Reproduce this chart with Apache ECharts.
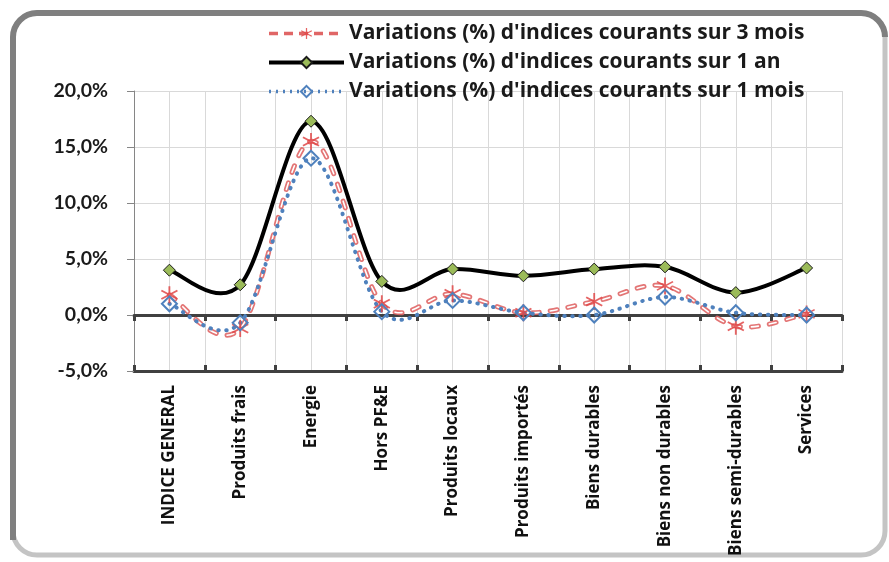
<!DOCTYPE html>
<html>
<head>
<meta charset="utf-8">
<script src="https://cdn.jsdelivr.net/npm/echarts@6/dist/echarts.min.js"></script>
<style>html,body{margin:0;padding:0;background:#fff;}#c{width:889px;height:562px;}</style>
</head>
<body>
<div id="c"></div>
<script>
var categories = ['INDICE GENERAL','Produits frais','Energie','Hors PF&E','Produits locaux','Produits importés','Biens durables','Biens non durables','Biens semi-durables','Services'];
var serie3mois = [1.8, -1.2, 15.5, 1.0, 1.9, 0.2, 1.2, 2.6, -1.0, 0.1];
var serie1an = [4.0, 2.7, 17.3, 3.0, 4.1, 3.5, 4.1, 4.3, 2.0, 4.2];
var serie1mois = [1.0, -0.7, 14.0, 0.3, 1.3, 0.2, 0.0, 1.6, 0.2, 0.0];
var seriesNames = ["Variations (%) d'indices courants sur 3 mois", "Variations (%) d'indices courants sur 1 an", "Variations (%) d'indices courants sur 1 mois"];
var yTicks = {min: -5, max: 20, interval: 5};

var asterisk = 'path://M-1 -10L1 -10L1 10L-1 10Z M8.16 5.87L-9.16 -4.13L-8.16 -5.87L9.16 4.13Z M-9.16 4.13L8.16 -5.87L9.16 -4.13L-8.16 5.87Z';
var font = '"Open Sans", Lato, sans-serif';
var frameDark = {fill: 'none', stroke: '#7f7f7f', lineWidth: 6};

// Smooth curve (Excel-like Catmull-Rom) through the points given by the axes' own scales
function smoothPath(values, api) {
  var p = values.map(function (v, i) { return api.coord([i, v]); });
  var n = p.length;
  function tan(i) {
    var a = p[Math.max(i - 1, 0)], b = p[Math.min(i + 1, n - 1)];
    return [(b[0] - a[0]) / 6, (b[1] - a[1]) / 6];
  }
  var d = 'M' + p[0][0] + ' ' + p[0][1];
  for (var i = 0; i < n - 1; i++) {
    var t0 = tan(i), t1 = tan(i + 1);
    d += ' C' + (p[i][0] + t0[0]) + ' ' + (p[i][1] + t0[1]) + ' ' +
      (p[i + 1][0] - t1[0]) + ' ' + (p[i + 1][1] - t1[1]) + ' ' + p[i + 1][0] + ' ' + p[i + 1][1];
  }
  return d;
}
function curveSeries(name, values, layers, z) {
  return {
    name: name, type: 'custom', z: z, silent: true,
    data: values.map(function (v, i) { return [i, v]; }),
    encode: {x: 0, y: 1},
    renderItem: function (params, api) {
      if (params.dataIndex !== 0) return null;
      var d = smoothPath(values, api);
      return {
        type: 'group',
        children: layers.map(function (st) {
          return {type: 'path', shape: {pathData: d}, style: Object.assign({fill: null}, st)};
        })
      };
    }
  };
}

var chart = echarts.init(document.getElementById('c'));
chart.setOption({
  backgroundColor: '#ffffff',
  animation: false,
  graphic: [
    {type: 'rect', shape: {x: 13, y: 13, width: 872, height: 542, r: 24}, style: {fill: 'none', stroke: '#c4c4c4', lineWidth: 5}, z: -10, silent: true},
    {type: 'line', shape: {x1: 13, y1: 37, x2: 13, y2: 540}, style: frameDark, silent: true},
    {type: 'line', shape: {x1: 37, y1: 13, x2: 861, y2: 13}, style: frameDark, silent: true},
    {type: 'arc', shape: {cx: 37, cy: 37, r: 24, startAngle: Math.PI, endAngle: Math.PI * 1.5, clockwise: true}, style: frameDark, silent: true},
    {type: 'arc', shape: {cx: 861, cy: 37, r: 24, startAngle: Math.PI * 1.5, endAngle: Math.PI * 2, clockwise: true}, style: frameDark, silent: true}
  ],
  legend: {
    orient: 'vertical',
    left: 267,
    top: 23,
    padding: 0,
    itemWidth: 75,
    itemHeight: 14,
    itemGap: 8,
    textStyle: {fontFamily: font, fontWeight: 'bold', fontSize: 21, color: '#1a1a1a'},
    data: [
      {name: seriesNames[0], lineStyle: {color: '#e06666', width: 3.5, type: [9, 6], opacity: 1}},
      {name: seriesNames[1], lineStyle: {color: '#000000', width: 4, type: 'solid', opacity: 1}},
      {name: seriesNames[2], lineStyle: {color: '#4f81bd', width: 3.5, type: [2, 5], opacity: 1}}
    ]
  },
  grid: {left: 134, right: 47, top: 91, bottom: 191, containLabel: false},
  xAxis: [
    {
      type: 'category', data: categories, boundaryGap: true, position: 'bottom',
      axisLine: {show: false, onZero: false}, axisTick: {show: false},
      splitLine: {show: false},
      axisLabel: {interval: 0, rotate: 90, margin: 14, fontFamily: font, fontWeight: 'bold', fontSize: 17, color: '#111'}
    },
    {
      type: 'category', data: categories, boundaryGap: true, position: 'bottom',
      axisLine: {show: true, onZero: true, lineStyle: {color: '#404040', width: 3}},
      axisTick: {show: true, interval: 0, length: 6, lineStyle: {color: '#404040', width: 3}},
      axisLabel: {show: false, interval: 0}, splitLine: {show: false}
    },
    {
      type: 'category', data: categories, boundaryGap: true, position: 'bottom',
      axisLine: {show: true, onZero: true, lineStyle: {color: '#404040', width: 3}},
      axisTick: {show: true, inside: true, interval: 0, length: 6, lineStyle: {color: '#404040', width: 3}},
      axisLabel: {show: false, interval: 0}, splitLine: {show: false}
    },
    {
      type: 'value', min: 0, max: categories.length * 2, interval: 1, position: 'top',
      axisLine: {show: false, onZero: false}, axisTick: {show: false},
      axisLabel: {show: false},
      splitLine: {show: true, lineStyle: {color: '#d9d9d9', width: 1}}
    }
  ],
  yAxis: {
    type: 'value', min: yTicks.min, max: yTicks.max, interval: yTicks.interval,
    axisLine: {show: true, lineStyle: {color: '#868686', width: 1}},
    axisTick: {show: true, length: 7, lineStyle: {color: '#868686'}},
    splitLine: {show: true, lineStyle: {color: '#d9d9d9', width: 1}},
    axisLabel: {
      margin: 26, fontFamily: 'Lato, "Open Sans", sans-serif', fontWeight: 'bold', fontSize: 19.5, color: '#1a1a1a',
      formatter: function (v) { return v.toFixed(1).replace('.', ',') + '%'; }
    }
  },
  series: [
    curveSeries('curve1an', serie1an, [{stroke: '#000000', lineWidth: 4, lineJoin: 'round'}], 2),
    curveSeries('curve3mois', serie3mois, [
      {stroke: '#e06666', lineWidth: 5, lineDash: [7, 11], lineCap: 'round', opacity: 0.9},
      {stroke: '#ffffff', lineWidth: 1.6, lineDash: [7, 11], lineCap: 'round'}
    ], 3),
    curveSeries('curve1mois', serie1mois, [{stroke: '#4f81bd', lineWidth: 4, lineDash: [0.5, 7.5], lineCap: 'round'}], 4),
    {
      name: seriesNames[0], type: 'line', data: serie3mois, z: 6,
      symbol: asterisk, symbolSize: [17, 17],
      itemStyle: {color: '#e04848', opacity: 0.85},
      lineStyle: {opacity: 0}
    },
    {
      name: seriesNames[1], type: 'line', data: serie1an, z: 5,
      symbol: 'diamond', symbolSize: 12,
      itemStyle: {color: '#9bbb59', borderColor: '#1a1a1a', borderWidth: 1},
      lineStyle: {opacity: 0}
    },
    {
      name: seriesNames[2], type: 'line', data: serie1mois, z: 7,
      symbol: 'diamond', symbolSize: 15,
      itemStyle: {color: 'rgba(255,255,255,0)', borderColor: '#4f81bd', borderWidth: 2},
      lineStyle: {opacity: 0}
    }
  ]
});
</script>
</body>
</html>
